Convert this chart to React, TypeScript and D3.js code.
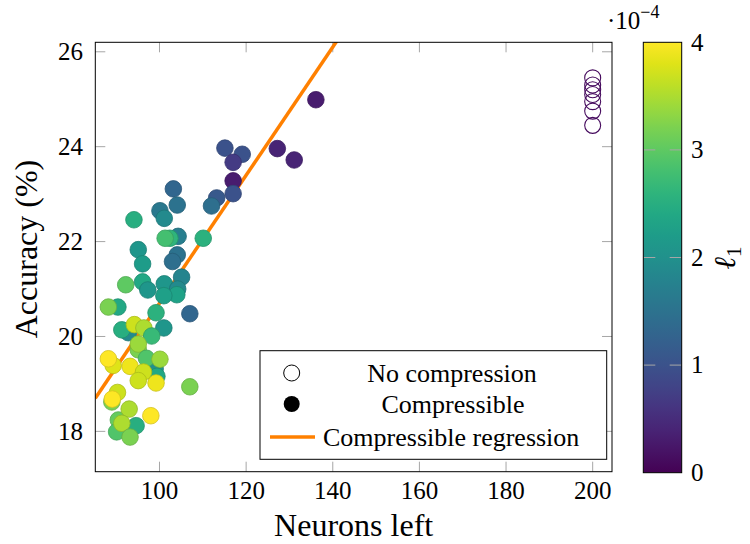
import React, { useEffect, useRef } from "react";
import * as d3 from "d3";

// compressible runs: neurons left, accuracy (%), l1 coefficient (x 1e-4)
const neuronsLeft = [
  89.0, 90.5, 92.8, 95.1, 99.0, 136.1, 127.2, 131.1, 115.1, 119.1, 117.0, 117.0,
  117.0, 113.2, 112.0, 103.2, 104.1, 100.1, 101.1, 104.3, 102.4, 101.3, 110.1,
  94.1, 95.1, 104.1, 103.0, 96.1, 105.1, 92.2, 96.1, 97.3, 101.1, 104.2, 104.0,
  101.0, 90.4, 88.2, 99.2, 107.0, 101.0, 91.3, 94.2, 96.4, 98.2, 95.1, 97.0,
  100.1, 89.3, 88.2, 93.2, 99.4, 96.3, 95.1, 99.2, 107.0, 90.3, 89.1, 93.0, 98.0,
  94.6, 90.1, 91.3, 93.2,
];
const accuracy = [
  18.62, 18.24, 20.08, 19.72, 19.32, 24.99, 23.96, 23.72, 23.97, 23.84, 23.67,
  23.28, 23.01, 22.92, 22.75, 23.11, 22.77, 22.65, 22.49, 22.11, 22.07, 22.07,
  22.07, 22.46, 21.83, 21.72, 21.58, 21.53, 21.25, 21.09, 21.15, 20.98, 21.11,
  21.0, 20.88, 20.86, 20.62, 20.62, 20.5, 20.48, 20.18, 20.14, 20.25, 20.18,
  20.01, 19.84, 19.54, 19.52, 19.39, 19.53, 19.37, 19.16, 19.25, 19.07, 19.02,
  18.94, 18.82, 18.68, 18.47, 18.33, 18.12, 17.99, 18.17, 17.88,
];
const l1 = [
  3.2, 3.05, 1.9, 3.2, 2.0, 0.3, 0.4, 0.4, 1.0, 1.0, 0.7, 0.3, 1.0, 1.1, 1.45,
  1.3, 1.5, 1.6, 1.9, 1.7, 2.6, 2.8, 2.55, 2.5, 2.1, 1.5, 1.45, 2.2, 1.8, 3.0,
  2.4, 2.1, 2.1, 1.9, 2.3, 2.25, 2.4, 3.2, 2.55, 1.3, 2.1, 2.5, 3.7, 3.5, 2.7,
  3.4, 2.9, 3.4, 3.8, 4.0, 3.9, 2.4, 3.7, 3.7, 3.9, 3.2, 3.7, 4.0, 3.5, 4.0, 2.5,
  2.9, 3.5, 3.2,
];

// uncompressed runs
const baseNeurons = [200, 200, 200, 200, 200, 200, 200];
const baseAccuracy = [25.45, 25.3, 25.2, 25.1, 24.95, 24.75, 24.45];

// fitted regression on compressible runs
const regIntercept = 7.2;
const regSlope = 0.135;

const xTicks = [100, 120, 140, 160, 180, 200];
const yTicks = [18, 20, 22, 24, 26];
const cTicks = [0, 1, 2, 3, 4];

const legendLabels = ["No compression", "Compressible", "Compressible regression"];

const FONT = "'Liberation Serif', 'Times New Roman', serif";

function Chart() {
  const ref = useRef<SVGSVGElement>(null);

  useEffect(() => {
    const svg = d3.select(ref.current);
    svg.selectAll("*").remove();

    const left = 95.3, right = 612, top = 42.3, bottom = 471.7;
    const x = d3.scaleLinear().domain([85.18, 204.46]).range([left, right]);
    const y = d3.scaleLinear().domain([17.15, 26.2]).range([bottom, top]);
    const color = (v: number) => d3.interpolateViridis(v / 4);
    const tickLen = 10;
    const grey = "#a6a6a6";

    svg
      .append("defs")
      .append("clipPath")
      .attr("id", "plot-clip")
      .append("rect")
      .attr("x", left)
      .attr("y", top)
      .attr("width", right - left)
      .attr("height", bottom - top);

    // ticks inside frame
    const ticks = svg.append("g").attr("stroke", grey).attr("stroke-width", 1);
    xTicks.forEach((t) => {
      ticks.append("line").attr("x1", x(t)).attr("x2", x(t)).attr("y1", bottom).attr("y2", bottom - tickLen);
      ticks.append("line").attr("x1", x(t)).attr("x2", x(t)).attr("y1", top).attr("y2", top + tickLen);
    });
    yTicks.forEach((t) => {
      ticks.append("line").attr("x1", left).attr("x2", left + tickLen).attr("y1", y(t)).attr("y2", y(t));
      ticks.append("line").attr("x1", right).attr("x2", right - tickLen).attr("y1", y(t)).attr("y2", y(t));
    });

    // tick labels
    svg
      .append("g")
      .selectAll("text")
      .data(xTicks)
      .enter()
      .append("text")
      .attr("x", (d) => x(d))
      .attr("y", 499)
      .attr("text-anchor", "middle")
      .attr("font-family", FONT)
      .attr("font-size", 25)
      .text((d) => d);
    svg
      .append("g")
      .selectAll("text")
      .data(yTicks)
      .enter()
      .append("text")
      .attr("x", 83)
      .attr("y", (d) => y(d))
      .attr("dy", "0.33em")
      .attr("text-anchor", "end")
      .attr("font-family", FONT)
      .attr("font-size", 25)
      .text((d) => d);

    // axis titles
    svg
      .append("text")
      .attr("x", (left + right) / 2)
      .attr("y", 536)
      .attr("text-anchor", "middle")
      .attr("font-family", FONT)
      .attr("font-size", 32)
      .text("Neurons left");
    svg
      .append("text")
      .attr("transform", `translate(37,${(top + bottom) / 2 - 8}) rotate(-90)`)
      .attr("text-anchor", "middle")
      .attr("font-family", FONT)
      .attr("font-size", 32)
      .text("Accuracy (%)");

    const plot = svg.append("g").attr("clip-path", "url(#plot-clip)");

    // regression line
    const xd = x.domain();
    plot
      .append("line")
      .attr("x1", x(xd[0]))
      .attr("y1", y(regIntercept + regSlope * xd[0]))
      .attr("x2", x(xd[1]))
      .attr("y2", y(regIntercept + regSlope * xd[1]))
      .attr("stroke", "#ff8000")
      .attr("stroke-width", 3.5);

    // uncompressed runs
    plot
      .selectAll(".base")
      .data(baseNeurons.map((n, i) => [n, baseAccuracy[i]]))
      .enter()
      .append("circle")
      .attr("cx", (d) => x(d[0]))
      .attr("cy", (d) => y(d[1]))
      .attr("r", 8)
      .attr("fill", "none")
      .attr("stroke", d3.interpolateViridis(0.03))
      .attr("stroke-width", 1.1);

    // compressible runs
    plot
      .selectAll(".comp")
      .data(neuronsLeft.map((n, i) => [n, accuracy[i], l1[i]]))
      .enter()
      .append("circle")
      .attr("cx", (d) => x(d[0]))
      .attr("cy", (d) => y(d[1]))
      .attr("r", 8.3)
      .attr("fill", (d) => color(d[2]))
      .attr("stroke", (d) => d3.color(color(d[2]))!.darker(0.5).toString())
      .attr("stroke-width", 0.8);

    // frame
    svg
      .append("rect")
      .attr("x", left)
      .attr("y", top)
      .attr("width", right - left)
      .attr("height", bottom - top)
      .attr("fill", "none")
      .attr("stroke", "black")
      .attr("stroke-width", 1);

    // legend
    const lg = svg.append("g");
    lg.append("rect")
      .attr("x", 260)
      .attr("y", 350.7)
      .attr("width", 346.7)
      .attr("height", 108.6)
      .attr("fill", "white")
      .attr("stroke", "black")
      .attr("stroke-width", 1);
    lg.append("circle").attr("cx", 291.7).attr("cy", 373).attr("r", 8).attr("fill", "white").attr("stroke", "black").attr("stroke-width", 1);
    lg.append("circle").attr("cx", 291.7).attr("cy", 404).attr("r", 8).attr("fill", "black");
    lg.append("line").attr("x1", 270).attr("x2", 315).attr("y1", 437).attr("y2", 437).attr("stroke", "#ff8000").attr("stroke-width", 3.5);
    const lgY = [373, 404, 437];
    const lgX = [452, 453, 323];
    legendLabels.forEach((t, i) => {
      lg.append("text")
        .attr("x", lgX[i])
        .attr("y", lgY[i])
        .attr("dy", "0.33em")
        .attr("text-anchor", i < 2 ? "middle" : "start")
        .attr("font-family", FONT)
        .attr("font-size", 26)
        .text(t);
    });

    // colorbar
    const cbL = 643.3, cbR = 681.7, cbT = 42.3, cbB = 472.7;
    const c = d3.scaleLinear().domain([0, 4]).range([cbB, cbT]);
    const grad = svg
      .select("defs")
      .append("linearGradient")
      .attr("id", "viridis-grad")
      .attr("x1", 0)
      .attr("y1", 1)
      .attr("x2", 0)
      .attr("y2", 0);
    d3.range(0, 1.0001, 0.05).forEach((t) => {
      grad.append("stop").attr("offset", t).attr("stop-color", d3.interpolateViridis(t));
    });
    svg
      .append("rect")
      .attr("x", cbL)
      .attr("y", cbT)
      .attr("width", cbR - cbL)
      .attr("height", cbB - cbT)
      .attr("fill", "url(#viridis-grad)");
    const cbt = svg.append("g").attr("stroke", grey).attr("stroke-width", 1);
    cTicks.slice(1, -1).forEach((t) => {
      cbt.append("line").attr("x1", cbL).attr("x2", cbL + 12).attr("y1", c(t)).attr("y2", c(t));
      cbt.append("line").attr("x1", cbR).attr("x2", cbR - 12).attr("y1", c(t)).attr("y2", c(t));
    });
    svg
      .append("rect")
      .attr("x", cbL)
      .attr("y", cbT)
      .attr("width", cbR - cbL)
      .attr("height", cbB - cbT)
      .attr("fill", "none")
      .attr("stroke", "black")
      .attr("stroke-width", 1);
    svg
      .append("g")
      .selectAll("text")
      .data(cTicks)
      .enter()
      .append("text")
      .attr("x", 691)
      .attr("y", (d) => c(d))
      .attr("dy", "0.33em")
      .attr("font-family", FONT)
      .attr("font-size", 25)
      .text((d) => d);

    // scale factor
    const sf = svg.append("text").attr("x", 607).attr("y", 29).attr("font-family", FONT).attr("font-size", 25);
    sf.append("tspan").text("·10");
    sf.append("tspan").attr("dy", -11).attr("font-size", 18).text("−4");

    // colorbar label
    const cl = svg
      .append("text")
      .attr("transform", "translate(735,258) rotate(-90)")
      .attr("text-anchor", "middle")
      .attr("font-family", FONT)
      .attr("font-size", 30);
    cl.append("tspan").attr("font-style", "italic").text("ℓ");
    cl.append("tspan").attr("dy", 6).attr("font-size", 21).text("1");
  }, []);

  return (
    <svg
      ref={ref}
      width={750}
      height={544}
      style={{ position: "absolute", left: 0, top: 0, background: "white" }}
    />
  );
}

export default function App() {
  return <Chart />;
}
